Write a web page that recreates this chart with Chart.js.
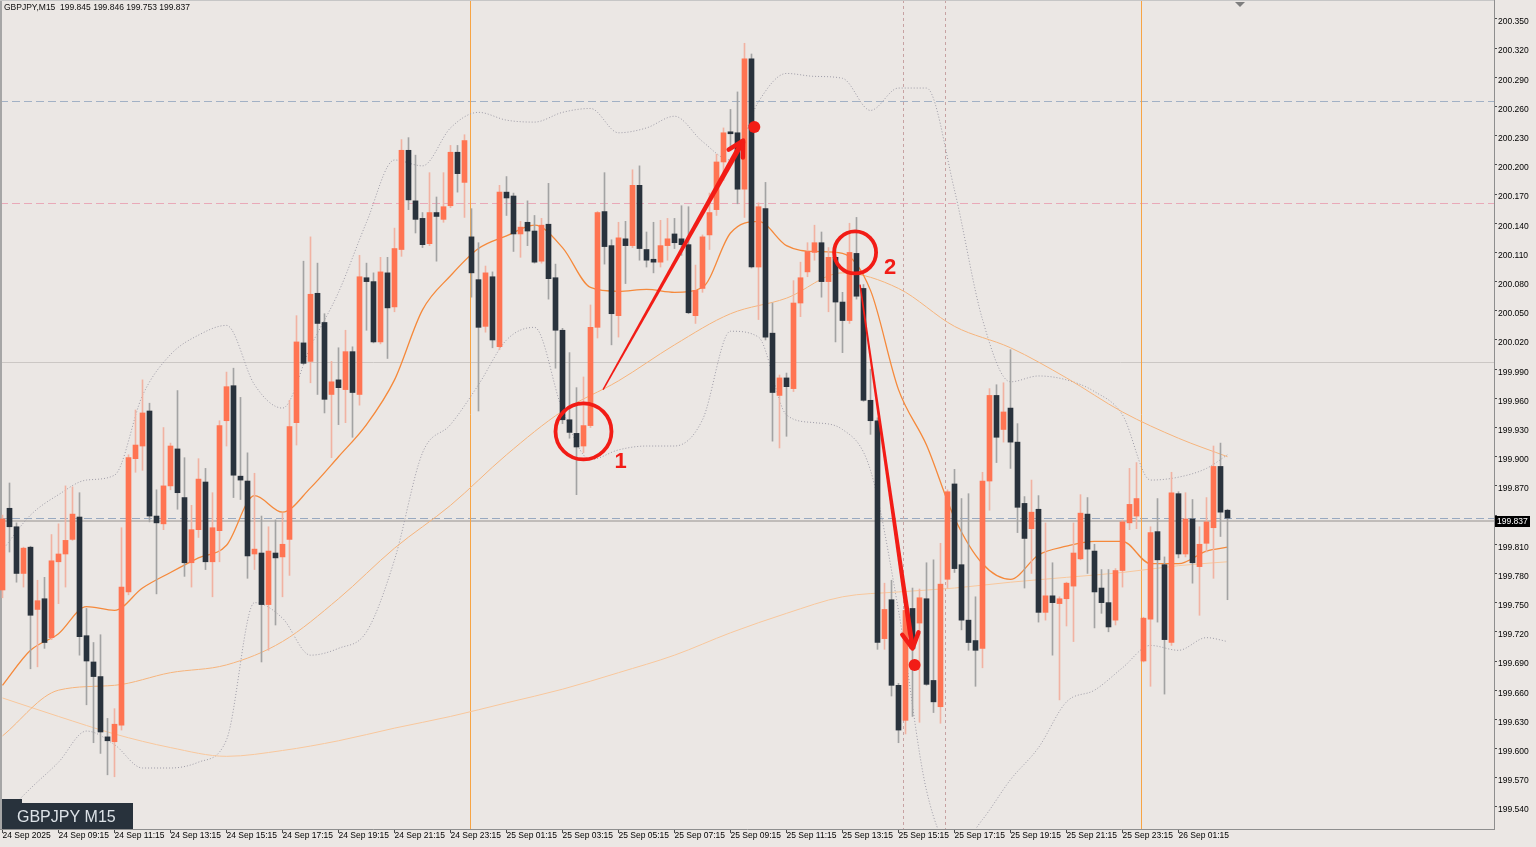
<!DOCTYPE html>
<html>
<head>
<meta charset="utf-8">
<title>GBPJPY M15</title>
<script src="https://cdn.jsdelivr.net/npm/chart.js@4.4.1/dist/chart.umd.min.js"></script>
<style>
html,body{margin:0;padding:0;background:#EBE7E4;overflow:hidden;}
#wrap{position:relative;width:1536px;height:847px;}
canvas{display:block;}
</style>
</head>
<body>
<div id="wrap"><canvas id="chart" width="1536" height="847"></canvas></div>
<script>
// ---------------- data ----------------
const symbol = 'GBPJPY';
const timeframe = 'M15';

const timeLabels = ['24 Sep 2025','24 Sep 09:15','24 Sep 11:15','24 Sep 13:15','24 Sep 15:15','24 Sep 17:15','24 Sep 19:15','24 Sep 21:15','24 Sep 23:15','25 Sep 01:15','25 Sep 03:15','25 Sep 05:15','25 Sep 07:15','25 Sep 09:15','25 Sep 11:15','25 Sep 13:15','25 Sep 15:15','25 Sep 17:15','25 Sep 19:15','25 Sep 21:15','25 Sep 23:15','26 Sep 01:15'];
const timeLabelIdx = [0,8,16,24,32,40,48,56,64,72,80,88,96,104,112,120,128,136,144,152,160,168];

const priceTicks = [199.540,199.570,199.600,199.630,199.660,199.690,199.720,199.750,199.780,199.810,199.840,199.870,199.900,199.930,199.960,199.990,200.020,200.050,200.080,200.110,200.140,200.170,200.200,200.230,200.260,200.290,200.320,200.350];

const open = [
199.763,199.847,199.828,199.780,199.807,199.743,199.754,199.714,199.792,199.800,
199.815,199.838,199.716,199.689,199.674,199.612,199.607,199.624,199.761,199.898,
199.911,199.947,199.839,199.831,199.870,199.908,199.858,199.791,199.825,199.874,
199.792,199.824,199.937,199.973,199.880,199.875,199.800,199.801,199.748,199.801,
199.797,199.815,199.935,200.017,199.998,200.068,200.038,199.964,199.979,199.969,
200.008,199.964,200.084,200.080,200.018,200.089,200.054,200.113,200.215,200.163,
200.145,200.119,200.151,200.144,200.158,200.213,200.182,200.126,200.082,200.034,
200.085,200.013,200.172,200.168,200.129,200.141,200.132,200.101,200.139,200.084,
200.030,199.938,199.924,199.911,199.932,200.033,200.152,200.117,200.045,200.124,
200.117,200.179,200.113,200.103,200.100,200.117,200.129,200.124,200.118,200.045,
200.073,200.128,200.154,200.203,200.234,200.233,200.175,200.309,200.095,200.155,
200.027,199.963,199.981,199.970,200.058,200.090,200.110,200.120,200.080,200.105,
200.059,200.040,200.109,200.073,199.958,199.937,199.713,199.753,199.665,199.629,
199.744,199.729,199.754,199.670,199.643,199.774,199.872,199.789,199.732,199.711,
199.703,199.875,199.963,199.928,199.950,199.915,199.852,199.826,199.846,199.740,
199.757,199.749,199.754,199.767,199.795,199.841,199.803,199.765,199.750,199.732,
199.783,199.832,199.839,199.690,199.733,199.823,199.789,199.709,199.862,199.800,
199.836,199.787,199.811,199.827,199.890,199.845];

const high = [
199.840,199.873,199.832,199.807,199.808,199.773,199.776,199.820,199.831,199.870,
199.869,199.863,199.744,199.709,199.717,199.631,199.641,199.827,199.902,199.948,
199.979,199.955,199.866,199.930,199.914,199.968,199.899,199.850,199.898,199.888,
199.863,199.937,199.987,199.991,199.961,199.904,199.883,199.839,199.828,199.835,
199.842,199.958,200.045,200.101,200.126,200.099,200.047,199.998,200.012,200.030,
200.013,200.107,200.099,200.089,200.105,200.105,200.135,200.226,200.228,200.210,
200.151,200.192,200.167,200.192,200.220,200.220,200.231,200.155,200.120,200.096,
200.090,200.179,200.188,200.171,200.142,200.163,200.148,200.145,200.181,200.098,
200.032,200.007,199.971,199.982,200.056,200.152,200.192,200.123,200.141,200.142,
200.195,200.199,200.131,200.141,200.143,200.145,200.145,200.158,200.157,200.097,
200.128,200.171,200.211,200.238,200.257,200.275,200.325,200.314,200.161,200.182,
200.058,199.984,199.986,200.081,200.100,200.120,200.138,200.131,200.115,200.118,
200.069,200.140,200.146,200.077,199.990,199.940,199.770,199.773,199.667,199.744,
199.765,199.764,199.791,199.794,199.811,199.866,199.887,199.857,199.862,199.756,
199.884,199.970,199.974,199.976,200.010,199.934,199.859,199.876,199.860,199.832,
199.791,199.756,199.771,199.832,199.861,199.858,199.810,199.784,199.784,199.785,
199.835,199.888,199.894,199.735,199.828,199.857,199.797,199.884,199.864,199.863,
199.856,199.828,199.858,199.911,199.914,199.846];

const low = [
199.755,199.802,199.771,199.766,199.682,199.684,199.703,199.712,199.749,199.766,
199.814,199.696,199.645,199.606,199.595,199.573,199.571,199.619,199.758,199.884,
199.886,199.833,199.759,199.825,199.866,199.846,199.777,199.766,199.817,199.784,
199.756,199.792,199.911,199.858,199.856,199.775,199.784,199.689,199.701,199.727,
199.756,199.778,199.912,199.995,199.976,199.964,199.945,199.899,199.933,199.935,
199.920,199.953,200.030,200.017,200.016,200.001,200.049,200.106,200.154,200.130,
200.115,200.117,200.101,200.141,200.156,200.172,200.146,200.064,199.947,200.028,
200.012,200.010,200.148,200.111,200.105,200.117,200.099,200.099,200.062,199.991,
199.934,199.919,199.861,199.904,199.930,200.022,200.098,200.015,200.023,200.078,
200.115,200.102,200.095,200.089,200.095,200.102,200.114,200.107,200.047,200.037,
200.069,200.113,200.148,200.184,200.217,200.160,200.146,200.094,200.041,200.020,
199.916,199.909,199.921,199.967,200.044,200.085,200.102,200.064,200.049,200.018,
200.007,200.037,200.062,199.957,199.923,199.702,199.702,199.654,199.606,199.615,
199.633,199.627,199.665,199.637,199.626,199.765,199.781,199.722,199.701,199.664,
199.683,199.845,199.894,199.915,199.888,199.822,199.765,199.780,199.730,199.732,
199.696,199.650,199.726,199.710,199.794,199.780,199.724,199.739,199.720,199.727,
199.766,199.825,199.826,199.689,199.664,199.730,199.656,199.706,199.796,199.797,
199.770,199.737,199.802,199.775,199.818,199.753];

const close = [
199.836,199.828,199.780,199.806,199.737,199.752,199.709,199.793,199.800,199.814,
199.841,199.715,199.690,199.674,199.617,199.608,199.625,199.766,199.899,199.912,
199.945,199.839,199.832,199.870,199.911,199.863,199.791,199.825,199.877,199.792,
199.827,199.932,199.972,199.881,199.876,199.798,199.805,199.748,199.803,199.796,
199.810,199.931,200.018,199.996,200.067,200.037,199.959,199.977,199.971,200.008,
199.966,200.085,200.080,200.018,200.090,200.053,200.114,200.215,200.164,200.144,
200.118,200.151,200.147,200.157,200.213,200.191,200.225,200.089,200.033,200.089,
200.020,200.172,200.166,200.129,200.136,200.132,200.100,200.138,200.083,200.030,
199.938,199.925,199.910,199.932,200.033,200.151,200.116,200.047,200.125,200.117,
200.179,200.114,200.102,200.100,200.117,200.124,200.120,200.118,200.048,200.071,
200.126,200.151,200.203,200.233,200.232,200.175,200.309,200.095,200.157,200.023,
199.966,199.981,199.972,200.058,200.084,200.111,200.120,200.080,200.105,200.059,
200.040,200.110,200.065,199.958,199.937,199.709,199.743,199.665,199.619,199.742,
199.703,199.755,199.666,199.648,199.769,199.864,199.785,199.732,199.709,199.701,
199.875,199.963,199.920,199.946,199.915,199.848,199.816,199.843,199.740,199.757,
199.750,199.754,199.770,199.801,199.842,199.805,199.761,199.750,199.725,199.783,
199.833,199.851,199.857,199.734,199.822,199.794,199.712,199.863,199.800,199.836,
199.791,199.810,199.833,199.890,199.843,199.837];

// indicator readings (sampled bars)
const fastIdx = [0,4,8,12,16,20,24,28,32,36,40,44,48,52,56,60,64,68,72,76,80,84,88,92,96,100,104,108,112,116,120,124,128,132,136,140,144,148,152,156,160,164,168,172,175];
const ma20 = [199.665,199.701,199.718,199.746,199.742,199.765,199.781,199.796,199.809,199.860,199.843,199.868,199.900,199.933,199.979,200.051,200.086,200.114,200.127,200.138,200.115,200.074,200.070,200.072,200.069,200.074,200.130,200.142,200.117,200.111,200.109,200.071,199.969,199.912,199.837,199.790,199.774,199.799,199.808,199.813,199.813,199.790,199.790,199.803,199.807];
const bbUpper = [199.804,199.840,199.861,199.876,199.881,199.963,200.005,200.025,200.035,199.974,199.950,200.013,200.069,200.141,200.205,200.199,200.238,200.254,200.246,200.244,200.254,200.258,200.233,200.238,200.250,200.224,200.205,200.265,200.294,200.291,200.289,200.256,200.279,200.279,200.174,200.041,199.977,199.983,199.979,199.967,199.943,199.876,199.879,199.888,199.902];
const bbLower = [199.530,199.559,199.586,199.618,199.604,199.580,199.580,199.586,199.609,199.750,199.734,199.696,199.703,199.720,199.794,199.904,199.933,199.974,200.020,200.033,199.948,199.897,199.907,199.911,199.911,199.938,200.029,200.023,199.943,199.935,199.928,199.886,199.742,199.557,199.496,199.527,199.568,199.601,199.648,199.660,199.683,199.706,199.701,199.714,199.710];

const slowIdx = [0,8,16,24,32,40,48,56,64,72,80,88,96,104,112,120,128,136,144,152,160,168,175];
const ma75 = [199.613,199.660,199.665,199.678,199.686,199.710,199.754,199.806,199.850,199.902,199.947,199.978,200.015,200.047,200.063,200.089,200.073,200.034,200.012,199.981,199.946,199.919,199.900];
const ma200 = [199.652,199.633,199.615,199.601,199.592,199.598,199.608,199.621,199.633,199.647,199.661,199.678,199.696,199.719,199.739,199.756,199.761,199.765,199.771,199.776,199.781,199.788,199.792];

// horizontal price levels and vertical markers (bar positions)
const levelPrices = [200.266, 200.161, 199.997, 199.834];
const daySeparatorBars = [66.8, 162.6];
const markerBars = [128.6, 134.6];

// ---------------- chart ----------------
const last = close.length - 1;
const lastClose = close[last];
const BULL = '#FF7452', BEAR = '#29323C', BULL_WICK = '#F1B2A2', BEAR_WICK = '#A3A3A3';
const idx = open.map((_, i) => i);
const isUp = i => close[i] >= open[i];
const FONT = 'Liberation Sans';
const AXIS_FONT = {family: FONT, size: 8.5};

Chart.defaults.font.family = FONT;

function lineDS(label, xs, ys, color, width, dash, order) {
  return {
    type: 'line', label, order,
    data: xs.map((k, j) => ({x: k, y: ys[j]})),
    borderColor: color, borderWidth: width, borderDash: dash,
    pointRadius: 0, cubicInterpolationMode: 'monotone', fill: false
  };
}

function taper(ctx, x0, y0, x1, y1, w0, w1) {
  const dx = x1 - x0, dy = y1 - y0, L = Math.hypot(dx, dy), nx = -dy / L, ny = dx / L;
  ctx.beginPath();
  ctx.moveTo(x0 + nx * w0 / 2, y0 + ny * w0 / 2);
  ctx.lineTo(x1 + nx * w1 / 2, y1 + ny * w1 / 2);
  ctx.lineTo(x1 - nx * w1 / 2, y1 - ny * w1 / 2);
  ctx.lineTo(x0 - nx * w0 / 2, y0 - ny * w0 / 2);
  ctx.closePath();
  ctx.fill();
}
function head(ctx, x0, y0, x1, y1, len, ang, w) {
  const a = Math.atan2(y1 - y0, x1 - x0);
  ctx.lineWidth = w; ctx.lineCap = 'round'; ctx.lineJoin = 'round';
  ctx.beginPath();
  ctx.moveTo(x1 - len * Math.cos(a - ang), y1 - len * Math.sin(a - ang));
  ctx.lineTo(x1, y1);
  ctx.lineTo(x1 - len * Math.cos(a + ang), y1 - len * Math.sin(a + ang));
  ctx.stroke();
}

const overlay = {
  id: 'overlay',
  beforeDatasetsDraw(chart) {
    const {ctx, chartArea: a, scales: {x, y}} = chart;
    ctx.save();
    ctx.beginPath(); ctx.rect(a.left, a.top, a.right - a.left, a.bottom - a.top); ctx.clip();
    const hl = (p, color, dash, w) => {
      const yy = Math.round(y.getPixelForValue(p)) + (w % 2 ? 0.5 : 0);
      ctx.strokeStyle = color; ctx.lineWidth = w; ctx.setLineDash(dash);
      ctx.beginPath(); ctx.moveTo(a.left, yy); ctx.lineTo(a.right, yy); ctx.stroke();
    };
    hl(levelPrices[0], '#A2B1C5', [8, 4], 1);
    hl(levelPrices[1], '#E9A9B8', [8, 4], 1);
    hl(levelPrices[2], '#CBC7C4', [], 1);
    hl(levelPrices[3], '#C0BCB9', [], 2);
    hl(lastClose, '#98A9C0', [8, 4], 1);
    const vl = (k, color, dash) => {
      const xx = Math.round(x.getPixelForValue(k)) + 0.5;
      ctx.strokeStyle = color; ctx.lineWidth = 1; ctx.setLineDash(dash);
      ctx.beginPath(); ctx.moveTo(xx, a.top); ctx.lineTo(xx, a.bottom); ctx.stroke();
    };
    daySeparatorBars.forEach(k => vl(k, '#F7A444', []));
    markerBars.forEach(k => vl(k, '#C7A2A2', [3, 3]));
    ctx.setLineDash([]);
    ctx.fillStyle = '#A6A6A6'; ctx.fillRect(0, 0, 2, a.bottom);
    ctx.fillStyle = '#C6C6C6'; ctx.fillRect(0, 0, a.right, 1);
    ctx.restore();
  },
  afterDatasetsDraw(chart) {
    const {ctx, scales: {x, y}} = chart;
    const P = (k, p) => [x.getPixelForValue(k), y.getPixelForValue(p)];
    const RED = '#F21C16';
    ctx.save();
    ctx.strokeStyle = RED; ctx.fillStyle = RED;
    [[83, 199.926, 28], [121.8, 200.110, 21]].forEach(([k, p, r]) => {
      const [cx, cy] = P(k, p);
      ctx.lineWidth = 3.8; ctx.beginPath(); ctx.arc(cx, cy, r, 0, Math.PI * 2); ctx.stroke();
    });
    let [ax0, ay0] = P(85.8, 199.969), [ax1, ay1] = P(105.8, 200.225);
    taper(ctx, ax0, ay0, ax1, ay1, 1.5, 5.5);
    head(ctx, ax0, ay0, ax1, ay1, 17, 0.5, 4.5);
    [ax0, ay0] = P(122.5, 200.077); [ax1, ay1] = P(130, 199.703);
    taper(ctx, ax0, ay0, ax1, ay1, 1.5, 5);
    head(ctx, ax0, ay0, ax1, ay1, 17, 0.5, 4.5);
    [[107.4, 200.239], [130.3, 199.686]].forEach(([k, p]) => {
      const [cx, cy] = P(k, p);
      ctx.beginPath(); ctx.arc(cx, cy, 6, 0, Math.PI * 2); ctx.fill();
    });
    ctx.font = 'bold 22px ' + FONT; ctx.textAlign = 'center'; ctx.textBaseline = 'middle';
    let [tx, ty] = P(88.3, 199.895); ctx.fillText('1', tx, ty);
    [tx, ty] = P(126.8, 200.094); ctx.fillText('2', tx, ty);
    ctx.restore();
  },
  afterDraw(chart) {
    const {ctx, chartArea: a, scales: {y}} = chart;
    ctx.save();
    ctx.font = '8.5px ' + FONT; ctx.fillStyle = '#0E0E0E'; ctx.textAlign = 'left'; ctx.textBaseline = 'alphabetic';
    ctx.fillText(symbol + ',' + timeframe + '  ' + [open[last], high[last], low[last], close[last]].map(v => v.toFixed(3)).join(' '), 4, 10);
    ctx.fillStyle = '#28323C';
    ctx.fillRect(2, 799, 20, 4);
    ctx.fillRect(2, 803, 131, 26);
    ctx.font = '16px ' + FONT; ctx.fillStyle = '#DCE2E7';
    ctx.fillText(symbol + ' ' + timeframe, 17, 822);
    const yy = y.getPixelForValue(lastClose);
    ctx.fillStyle = '#000';
    ctx.fillRect(a.right + 1, Math.round(yy) - 2, 35, 11);
    ctx.fillStyle = '#FFF'; ctx.font = '8.5px ' + FONT; ctx.textBaseline = 'middle';
    ctx.fillText(lastClose.toFixed(3), a.right + 3, Math.round(yy) + 3.5);
    ctx.fillStyle = '#7E7E7E';
    ctx.beginPath(); ctx.moveTo(1235, 2); ctx.lineTo(1245, 2); ctx.lineTo(1240, 7); ctx.closePath(); ctx.fill();
    ctx.restore();
  }
};

const xMin = -2.5 / 7;
const xMax = xMin + 1494 / 7;

new Chart(document.getElementById('chart'), {
  type: 'bar',
  data: {
    datasets: [
      {type: 'bar', label: 'body', order: 0, grouped: false, barThickness: 5, minBarLength: 1, borderWidth: 0,
       data: idx.map(i => ({x: i, y: [open[i], close[i]]})),
       backgroundColor: idx.map(i => isUp(i) ? BULL : BEAR)},
      {type: 'bar', label: 'wick', order: 1, grouped: false, barThickness: 1, borderWidth: 0,
       data: idx.map(i => ({x: i, y: [low[i], high[i]]})),
       backgroundColor: idx.map(i => isUp(i) ? BULL_WICK : BEAR_WICK)},
      lineDS('MA20', fastIdx, ma20, '#F5893B', 1.3, [], 2),
      lineDS('MA75', slowIdx, ma75, '#F6B47C', 1, [], 3),
      lineDS('MA200', slowIdx, ma200, '#F8C79C', 1, [], 4),
      lineDS('BB upper', fastIdx, bbUpper, '#9D9BA6', 1, [1, 2], 5),
      lineDS('BB lower', fastIdx, bbLower, '#9D9BA6', 1, [1, 2], 6)
    ]
  },
  options: {
    responsive: false, animation: false, devicePixelRatio: 1,
    layout: {padding: 0, autoPadding: false},
    events: [],
    plugins: {legend: {display: false}, tooltip: {enabled: false}},
    scales: {
      x: {
        type: 'linear', position: 'bottom', min: xMin, max: xMax, offset: false, bounds: 'data',
        afterBuildTicks: s => { s.ticks = timeLabelIdx.map(v => ({value: v})); },
        afterFit: s => { s.height = 18; s.paddingLeft = 0; s.paddingRight = 0; },
        grid: {offset: false, drawOnChartArea: false, drawTicks: true, tickLength: 4, color: '#4A4A4A'},
        border: {display: true, color: '#8E8E8E'},
        ticks: {autoSkip: false, maxRotation: 0, minRotation: 0, align: 'start', padding: -2,
                color: '#000', font: AXIS_FONT,
                callback: (v, i) => timeLabels[i]}
      },
      y: {
        type: 'linear', position: 'right', min: 199.5173, max: 200.3695, bounds: 'data',
        afterBuildTicks: s => { s.ticks = priceTicks.map(v => ({value: v})); },
        afterFit: s => { s.width = 42; s.paddingTop = 0; s.paddingBottom = 0; },
        grid: {drawOnChartArea: false, drawTicks: true, tickLength: 3, color: '#4A4A4A'},
        border: {display: true, color: '#8E8E8E'},
        ticks: {padding: 1, labelOffset: 3, color: '#000', font: AXIS_FONT,
                callback: v => Math.abs(v - lastClose) < 0.006 ? '' : v.toFixed(3)}
      }
    }
  },
  plugins: [overlay]
});
</script>
</body>
</html>
